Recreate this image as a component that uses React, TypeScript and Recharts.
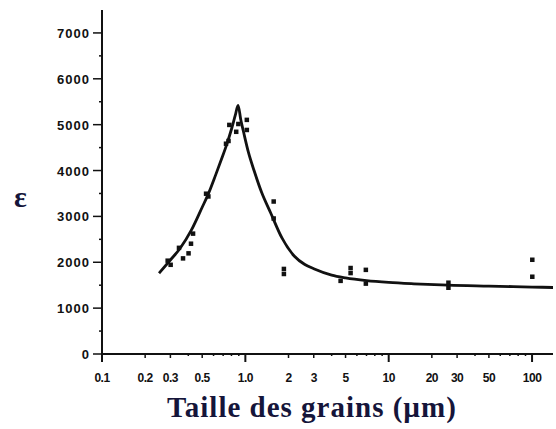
import React from "react";
import { ComposedChart, Line, Scatter, XAxis, YAxis } from "recharts";

// fitted curve
const curveX = [0.25, 0.3, 0.35, 0.42, 0.5, 0.55, 0.62, 0.68, 0.74, 0.8, 0.85, 0.89, 0.93, 0.97, 1.05, 1.15, 1.3, 1.5, 1.8, 2.2, 2.6, 3.0, 4.0, 5.0, 7.0, 10, 15, 26, 50, 100, 140];
const curveY = [1760, 2050, 2300, 2700, 3200, 3480, 3900, 4240, 4560, 4900, 5200, 5420, 5100, 4850, 4400, 4000, 3520, 3080, 2530, 2130, 1950, 1860, 1720, 1660, 1600, 1560, 1530, 1500, 1480, 1460, 1450];

// measured points
const pointX = [0.286, 0.3, 0.343, 0.366, 0.4, 0.416, 0.43, 0.53, 0.55, 0.73, 0.76, 0.77, 0.86, 0.89, 1.02, 1.02, 1.57, 1.57, 1.85, 1.85, 4.6, 5.4, 5.4, 6.9, 6.9, 26, 26, 100, 100];
const pointY = [2040, 1950, 2320, 2090, 2200, 2410, 2630, 3500, 3440, 4590, 4650, 5000, 4850, 5020, 5110, 4890, 3330, 2960, 1860, 1750, 1600, 1880, 1770, 1840, 1540, 1560, 1450, 2060, 1690];

const xTicks = [0.1, 0.2, 0.3, 0.4, 0.5, 0.6, 0.7, 0.8, 0.9, 1, 2, 3, 4, 5, 6, 7, 8, 9, 10, 20, 30, 40, 50, 60, 70, 80, 90, 100];
const xLabels: Record<string, string> = {
    "0.1": "0.1", "0.2": "0.2", "0.3": "0.3", "0.5": "0.5", "1": "1.0",
    "2": "2", "3": "3", "5": "5", "10": "10", "20": "20", "30": "30", "50": "50", "100": "100",
};
const yTicks = [0, 500, 1000, 1500, 2000, 2500, 3000, 3500, 4000, 4500, 5000, 5500, 6000, 6500, 7000];

const curve = curveX.map((x, i) => ({ x, y: curveY[i] }));
const points = pointX.map((x, i) => ({ x, y: pointY[i] }));

const TICK_FONT = "'Liberation Sans', Arial, sans-serif";
const SERIF = "'Liberation Serif', 'Times New Roman', serif";
const TITLE_COLOR = "#15153a";

function XTick({ x, y, payload }: any) {
    const v = payload.value;
    const label = xLabels[String(v)];
    const major = v === 0.1 || v === 1 || v === 10 || v === 100;
    return (
        <g>
            <line x1={x} x2={x} y1={y} y2={y + (major ? 8 : label ? 4 : 2)} stroke="#111" strokeWidth={major ? 2 : 1.5} />
            {label && (
                <text x={x} y={y + 28} textAnchor="middle" fontFamily={TICK_FONT} fontWeight="bold" fontSize={12} fill="#111" letterSpacing={-0.5}>
                    {label}
                </text>
            )}
        </g>
    );
}

function YTick({ x, y, payload }: any) {
    const v = payload.value;
    const major = v % 1000 === 0;
    return (
        <g>
            <line x1={major ? x - 9 : x - 3} x2={x} y1={y} y2={y} stroke="#111" strokeWidth={1.5} />
            {major && (
                <text x={x - 12} y={y + 5} textAnchor="end" fontFamily={TICK_FONT} fontWeight="bold" fontSize={13} fill="#111" letterSpacing={1}>
                    {v}
                </text>
            )}
        </g>
    );
}

const dot = (props: any) => <rect x={props.cx - 2} y={props.cy - 2} width={4.5} height={4.5} fill="#111" />;

export default function App() {
    return (
        <div style={{ position: "relative", width: 556, height: 429, background: "#fff" }}>
            <style>{`body{margin:0}`}</style>
            <ComposedChart width={556} height={429} margin={{ top: 10, right: 3, bottom: 0, left: 0 }}>
                <XAxis
                    dataKey="x"
                    type="number"
                    scale="log"
                    domain={[0.1, 140]}
                    allowDataOverflow
                    ticks={xTicks}
                    interval={0}
                    height={75}
                    tickSize={0}
                    tickMargin={0}
                    tickLine={false}
                    axisLine={{ stroke: "#111", strokeWidth: 2 }}
                    tick={<XTick />}
                />
                <YAxis
                    dataKey="y"
                    type="number"
                    domain={[0, 7500]}
                    allowDataOverflow
                    ticks={yTicks}
                    interval={0}
                    width={102}
                    tickSize={0}
                    tickMargin={0}
                    tickLine={false}
                    axisLine={{ stroke: "#111", strokeWidth: 2 }}
                    tick={<YTick />}
                />
                <Line data={curve} dataKey="y" type="monotone" stroke="#111" strokeWidth={2.8} dot={false} isAnimationActive={false} />
                <Scatter data={points} dataKey="y" shape={dot} isAnimationActive={false} />
            </ComposedChart>
            <div style={{ position: "absolute", left: 14, top: 180, fontFamily: SERIF, fontWeight: "bold", fontSize: 30, lineHeight: "normal", color: TITLE_COLOR }}>
                ε
            </div>
            <div style={{ position: "absolute", left: 0, width: 624, top: 391, textAlign: "center", fontFamily: SERIF, fontWeight: "bold", fontSize: 29, lineHeight: "normal", letterSpacing: 1, color: TITLE_COLOR }}>
                Taille des grains (µm)
            </div>
        </div>
    );
}
